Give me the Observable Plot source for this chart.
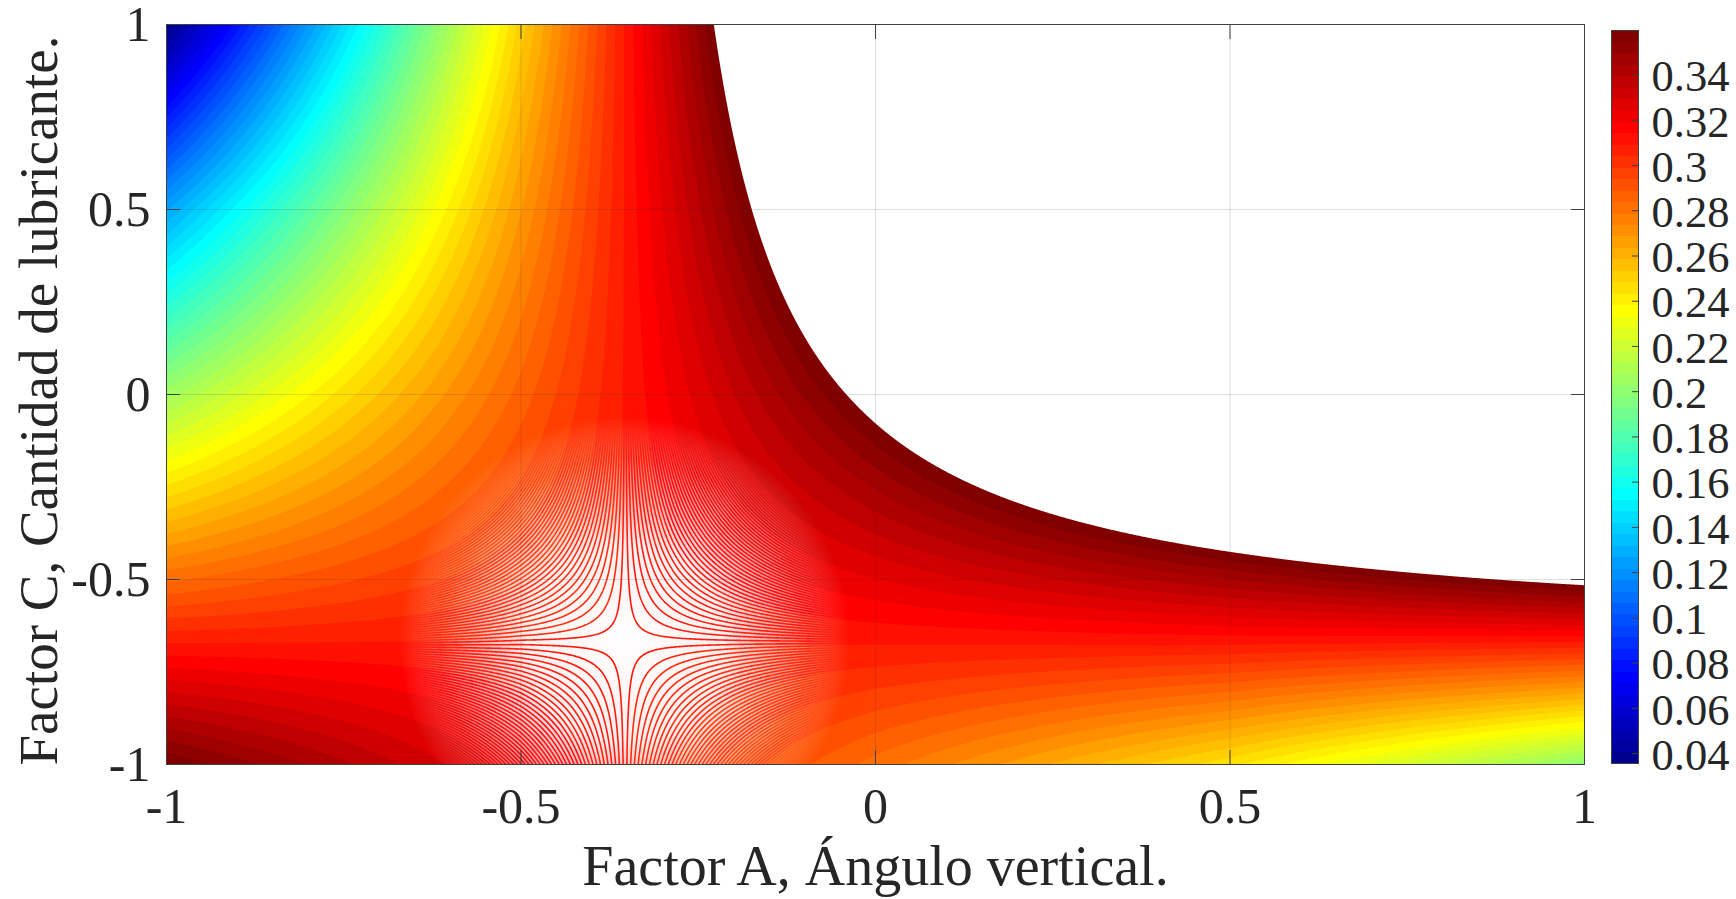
<!DOCTYPE html>
<html>
<head>
<meta charset="utf-8">
<script src="https://cdn.jsdelivr.net/npm/d3@7"></script>
<script src="https://cdn.jsdelivr.net/npm/@observablehq/plot@0.6"></script>
<style>
  html, body { margin: 0; padding: 0; background: #fff; }
  #chart { position: relative; width: 1736px; height: 899px; overflow: hidden; }
  #chart svg { position: absolute; top: 0; }
</style>
</head>
<body>
<div id="chart"></div>
<script>
// Values at the tick crossings.
const factorA = [-1, -0.5, 0, 0.5, 1];
const factorC = [-1, -0.5, 0, 0.5, 1];
const zAtCm1  = [0.3595, 0.3212, 0.2816, 0.2445, 0.2000];
const zAtCm05 = [0.2825, 0.3036, 0.3240, 0.3444, 0.3648];
const zAtC0   = [0.2054, 0.2860, 0.3663, 0.4468, 0.5272];
const zAtCp05 = [0.1260, 0.2683, 0.4087, 0.5491, 0.6895];
const zAtCp1  = [0.0356, 0.2507, 0.4511, 0.6515, 0.8519];
const zRows = [zAtCm1, zAtCm05, zAtC0, zAtCp05, zAtCp1];

const axisTicks = [-1, -0.5, 0, 0.5, 1];
const barTicks = [0.04, 0.06, 0.08, 0.1, 0.12, 0.14, 0.16, 0.18, 0.2, 0.22, 0.24, 0.26, 0.28, 0.3, 0.32, 0.34];
const barMin = 0.0356, barMax = 0.3597, levels = 64;
const saddleA = -0.353, saddleC = -0.67;
const lineStep = 0.00042, lineCount = 68;
const linesA = [-0.71, 0], linesC = [-1.02, 0];

const xLabel = "Factor A, Ángulo vertical.";
const yLabel = "Factor C, Cantidad de lubricante.";
const serif = "'Liberation Serif', 'Times New Roman', serif";
const ink = "#262626", edge = "#404040";

// Surface shading between the table's crossings (the table is the only data).
function surface(a, c) {
  const i = Math.min(Math.max(d3.bisectRight(factorA, a) - 1, 0), factorA.length - 2);
  const j = Math.min(Math.max(d3.bisectRight(factorC, c) - 1, 0), factorC.length - 2);
  const u = (a - factorA[i]) / (factorA[i + 1] - factorA[i]);
  const v = (c - factorC[j]) / (factorC[j + 1] - factorC[j]);
  const lo = zRows[j][i] * (1 - u) + zRows[j][i + 1] * u;
  const hi = zRows[j + 1][i] * (1 - u) + zRows[j + 1][i + 1] * u;
  return lo * (1 - v) + hi * v;
}

// MATLAB jet(64)
const clamp01 = (v) => Math.max(0, Math.min(1, v));
const jet = d3.range(levels).map((i) => {
  const t = (i + 1) / levels;
  const r = clamp01(Math.min(4 * t - 1.5, -4 * t + 4.5));
  const g = clamp01(Math.min(4 * t - 0.5, -4 * t + 3.5));
  const b = clamp01(Math.min(4 * t + 0.5, -4 * t + 2.5));
  return d3.rgb(r * 255, g * 255, b * 255).formatHex();
});
const edges = d3.range(levels + 1).map((i) => barMin + (barMax - barMin) * i / levels);
const bands = jet.map((color, i) => ({color, lo: edges[i], hi: edges[i + 1]}));

const z0 = surface(saddleA, saddleC);
const lineLevels = d3.range(lineCount).flatMap((n) => [z0 - (n + 0.5) * lineStep, z0 + (n + 0.5) * lineStep]).sort(d3.ascending);

const main = Plot.plot({
  width: 1736, height: 899,
  marginLeft: 166, marginRight: 152, marginTop: 24, marginBottom: 135,
  x: {domain: [-1, 1], axis: null},
  y: {domain: [-1, 1], axis: null},
  color: {type: "threshold", domain: edges.slice(1), range: [...jet, "#ffffff"]},
  style: {fontFamily: serif, background: "#fff", color: ink},
  marks: [
    Plot.contour({x1: -1, x2: 1, y1: -1, y2: 1, value: surface, fill: "value", thresholds: edges, pixelSize: 1, clip: true}),
    Plot.rect([0], {x1: linesA[0], x2: linesA[1], y1: -1, y2: linesC[1], fill: "#fff", clip: true}),
    Plot.contour({x1: linesA[0], x2: linesA[1], y1: linesC[0], y2: linesC[1], value: surface, stroke: "value", fill: "none", strokeWidth: 1.6, thresholds: lineLevels, pixelSize: 1, clip: true}),
    Plot.gridX(axisTicks, {stroke: "#262626", strokeOpacity: 0.15, strokeWidth: 1}),
    Plot.gridY(axisTicks, {stroke: "#262626", strokeOpacity: 0.15, strokeWidth: 1}),
    Plot.axisX(axisTicks, {anchor: "bottom", tickSize: -14, tickFormat: () => "", stroke: edge}),
    Plot.axisX(axisTicks, {anchor: "top", tickSize: -14, tickFormat: () => "", stroke: edge}),
    Plot.axisY(axisTicks, {anchor: "left", tickSize: -14, tickFormat: () => "", stroke: edge}),
    Plot.axisY(axisTicks, {anchor: "right", tickSize: -14, tickFormat: () => "", stroke: edge}),
    Plot.axisX(axisTicks, {anchor: "bottom", tickSize: 0, tickPadding: 23, fontSize: 50, fill: ink, tickFormat: String, label: null}),
    Plot.axisY(axisTicks, {anchor: "left", tickSize: 0, tickPadding: 16, fontSize: 50, fill: ink, tickFormat: String, label: null}),
    Plot.frame({stroke: edge, strokeWidth: 1}),
    Plot.text([xLabel], {frameAnchor: "bottom", dy: 120, lineAnchor: "bottom", fontSize: 56, fill: ink}),
    Plot.text([yLabel], {frameAnchor: "left", textAnchor: "middle", rotate: -90, dx: -127, dy: 6, fontSize: 55, fill: ink})
  ]
});
main.style.left = "0px";

// Soft round patch around the saddle: white ground and fine contour lines fade into the bands.
const sx = main.scale("x").apply(saddleA), sy = main.scale("y").apply(saddleC);
const ns = "http://www.w3.org/2000/svg";
const defs = document.createElementNS(ns, "defs");
defs.innerHTML = `
  <radialGradient id="groundFade" gradientUnits="userSpaceOnUse" cx="${sx}" cy="${sy}" r="245">
    <stop offset="0" stop-color="#fff"/>
    <stop offset="0.4" stop-color="#eee"/>
    <stop offset="0.7" stop-color="#777"/>
    <stop offset="0.92" stop-color="#000"/>
  </radialGradient>
  <radialGradient id="lineFade" gradientUnits="userSpaceOnUse" cx="${sx}" cy="${sy}" r="245">
    <stop offset="0" stop-color="#fff"/>
    <stop offset="0.75" stop-color="#ddd"/>
    <stop offset="1" stop-color="#000"/>
  </radialGradient>
  <mask id="groundMask" maskUnits="userSpaceOnUse" x="0" y="0" width="1736" height="899">
    <rect x="0" y="0" width="1736" height="899" fill="url(#groundFade)"/>
  </mask>
  <mask id="lineMask" maskUnits="userSpaceOnUse" x="0" y="0" width="1736" height="899">
    <rect x="0" y="0" width="1736" height="899" fill="url(#lineFade)"/>
  </mask>`;
main.insertBefore(defs, main.firstChild);
const contours = main.querySelectorAll('g[aria-label="contour"]');
const ground = main.querySelector('g[aria-label="rect"]');
if (ground) ground.setAttribute("mask", "url(#groundMask)");
if (contours[1]) contours[1].setAttribute("mask", "url(#lineMask)");

const bar = Plot.plot({
  width: 136, height: 899,
  marginLeft: 11, marginRight: 98, marginTop: 30, marginBottom: 136,
  x: {domain: [0, 1], axis: null},
  y: {domain: [barMin, barMax], axis: null},
  style: {fontFamily: serif, background: "transparent", color: ink},
  marks: [
    Plot.rect(bands, {x1: 0, x2: 1, y1: "lo", y2: "hi", fill: "color", inset: -0.3, shapeRendering: "crispEdges"}),
    Plot.axisY(barTicks, {anchor: "right", tickSize: -7, tickFormat: () => "", stroke: edge}),
    Plot.axisY(barTicks, {anchor: "right", tickSize: 0, tickPadding: 13, dy: 2, fontSize: 44.5, fill: ink, tickFormat: String, label: null}),
    Plot.frame({stroke: edge, strokeWidth: 1})
  ]
});
bar.style.left = "1600px";

const host = document.getElementById("chart");
host.append(main, bar);
</script>
</body>
</html>
